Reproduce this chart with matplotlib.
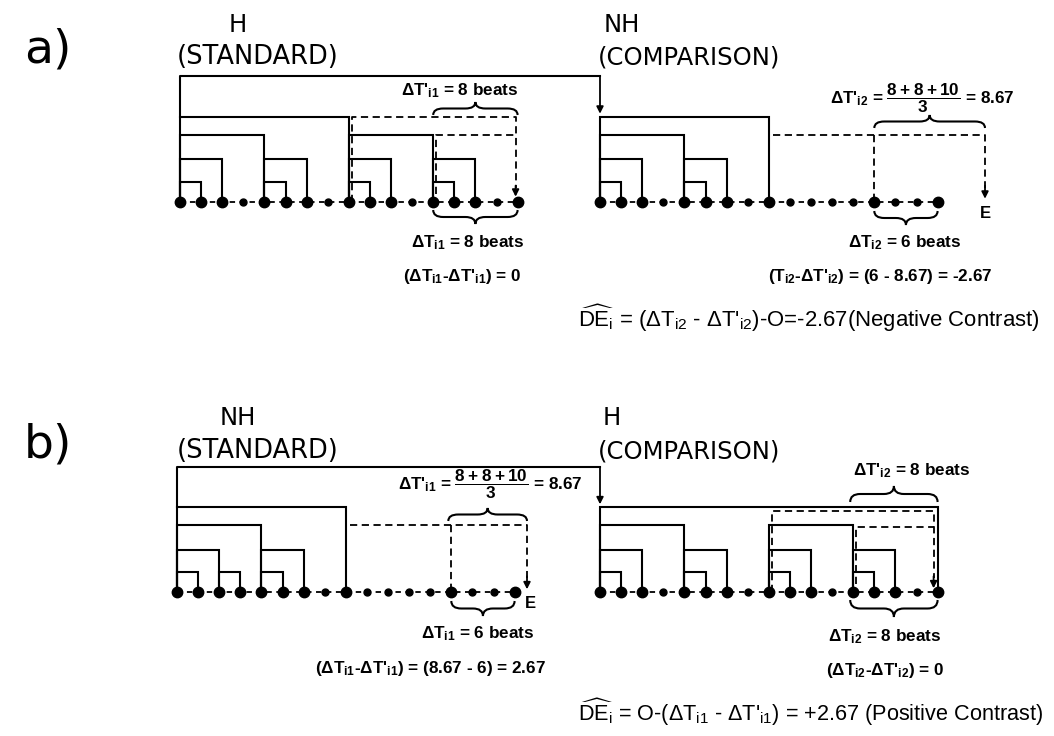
import matplotlib
matplotlib.use("Agg")
import matplotlib.pyplot as plt
from matplotlib.path import Path
from matplotlib.patches import PathPatch

plt.rcParams['font.family'] = ['DejaVu Sans']
plt.rcParams['mathtext.default'] = 'regular'

# ---- data: rhythm trees (start beat, end beat, level) ----
n_beats = 17

# a) H standard
a_std_solid = [(0, 1, 1), (4, 5, 1), (8, 9, 1), (12, 13, 1),
               (0, 2, 2), (4, 6, 2), (8, 10, 2), (12, 14, 2),
               (0, 4, 3), (8, 12, 3), (0, 8, 4)]
# a) NH comparison
a_cmp_solid = [(0, 1, 1), (4, 5, 1), (0, 2, 2), (4, 6, 2), (0, 4, 3), (0, 8, 4)]
# b) NH standard
b_std_solid = [(0, 1, 1), (2, 3, 1), (4, 5, 1), (0, 2, 2), (4, 6, 2), (0, 4, 3), (0, 8, 4)]
# b) H comparison
b_cmp_solid = [(0, 1, 1), (4, 5, 1), (8, 9, 1), (12, 13, 1),
               (0, 2, 2), (4, 6, 2), (8, 10, 2), (12, 14, 2),
               (0, 4, 3), (8, 12, 3), (0, 16, 4)]

dT_prime_a1 = 8
dT_a1 = 8
dT_prime_a2 = 8.67
dT_a2 = 6
contrast_a = -2.67
dT_prime_b1 = 8.67
dT_b1 = 6
dT_prime_b2 = 8
dT_b2 = 8
contrast_b = 2.67

# ---- layout (pixels) ----
W, H = 1054, 736
step = 21.1
lev_h = {1: 20, 2: 42.5, 3: 67, 4: 85}
LW = 1.5
SMALL = ['Liberation Sans', 'DejaVu Sans']

fig = plt.figure(figsize=(W / 100, H / 100), dpi=100)
ax = fig.add_axes([0, 0, 1, 1])
ax.set_xlim(0, W)
ax.set_ylim(H, 0)
ax.axis('off')


def bx(x0, i):
    return x0 + i * step


def tree(x0, base, brackets):
    for i, j, lv in brackets:
        y = base - lev_h[lv]
        ax.plot([bx(x0, i), bx(x0, i), bx(x0, j), bx(x0, j)], [base, y, y, base],
                color='black', lw=LW, solid_joinstyle='miter')


def beats(x0, base, big):
    xs = [bx(x0, i) for i in range(n_beats)]
    ax.plot(xs, [base] * n_beats, color='black', lw=1.3, ls=(0, (3, 2.5)))
    for i, x in enumerate(xs):
        ax.plot(x, base, 'o', color='black', ms=7.5 if i in big else 5, zorder=5)


def dash(xs, ys):
    ax.plot(xs, ys, color='black', lw=1.3, ls=(0, (4, 2.5)))


def arrow(x, y0, y1):
    ax.annotate('', xy=(x, y1), xytext=(x, y0),
                arrowprops=dict(arrowstyle='-|>', color='black', lw=1.3,
                                mutation_scale=10, shrinkA=0, shrinkB=0))


def brace(x1, x2, y0, h):
    # h > 0 : tip points up, h < 0 : tip points down
    xm = (x1 + x2) / 2
    r = min(10, (x2 - x1) / 4)
    ym = y0 - h / 2
    yt = y0 - h
    verts = [(x1, y0), (x1, ym), (x1 + r, ym), (xm - r, ym), (xm, ym), (xm, yt),
             (xm, ym), (xm + r, ym), (x2 - r, ym), (x2, ym), (x2, y0)]
    codes = [Path.MOVETO, Path.CURVE3, Path.CURVE3, Path.LINETO, Path.CURVE3, Path.CURVE3,
             Path.CURVE3, Path.CURVE3, Path.LINETO, Path.CURVE3, Path.CURVE3]
    ax.add_patch(PathPatch(Path(verts, codes), fill=False, lw=1.5, color='black'))


def txt(x, y, s, size=12.3, ha='center', weight='bold', family=SMALL):
    ax.text(x, y, s, fontsize=size, ha=ha, va='center', weight=weight, family=family)


def head(x, y, s, ha='center', size=17.5):
    ax.text(x, y, s, fontsize=size, ha=ha, va='center', family=['DejaVu Sans'])


# ================= panel a =================
A_BASE = 201.7
xa1, xa2 = 180, 600
head(48, 50, 'a)', size=34)
head(238, 25, 'H')
head(177, 57, '(STANDARD)', ha='left', size=18.5)
head(622, 25, 'NH')
head(598, 57, '(COMPARISON)', ha='left')

# connector from standard to comparison
ax.plot([xa1, xa1, xa2], [A_BASE - lev_h[4], 76, 76], color='black', lw=LW)
arrow(xa2, 76, A_BASE - lev_h[4] - 3)

tree(xa1, A_BASE, a_std_solid)
beats(xa1, A_BASE, {0, 1, 2, 4, 5, 6, 8, 9, 10, 12, 13, 14, 16})
y4, y3 = A_BASE - lev_h[4], A_BASE - lev_h[3]
dash([bx(xa1, 8) + 3, bx(xa1, 8) + 3, bx(xa1, 16) - 2, bx(xa1, 16) - 2],
     [A_BASE, y4, y4, A_BASE - 14])
arrow(bx(xa1, 16) - 2, A_BASE - 16, A_BASE - 5)
dash([bx(xa1, 12) + 3, bx(xa1, 12) + 3, bx(xa1, 16) - 2], [A_BASE - 8, y3, y3])
brace(bx(xa1, 12), bx(xa1, 16), 115, 13)
txt(460, 91, r"$\Delta$T$'_{i1}$ = %d beats" % dT_prime_a1)
brace(bx(xa1, 12), bx(xa1, 16), 210, -14)
txt(468, 243, r"$\Delta$T$_{i1}$ = %d beats" % dT_a1)
txt(462, 276, r"($\Delta$T$_{i1}$-$\Delta$T$'_{i1}$) = %d" % (dT_a1 - dT_prime_a1))

tree(xa2, A_BASE, a_cmp_solid)
beats(xa2, A_BASE, {0, 1, 2, 4, 5, 6, 8, 13, 16})
ya3 = A_BASE - lev_h[3]
xE = 985
dash([bx(xa2, 8) + 4, xE, xE], [ya3, ya3, A_BASE - 14])
arrow(xE, A_BASE - 16, A_BASE - 3)
txt(xE, 214, 'E', size=12)
dash([bx(xa2, 13), bx(xa2, 13)], [ya3, A_BASE])
brace(bx(xa2, 13), xE, 128, 13)
txt(922, 98, r"$\Delta$T$'_{i2}$ = $\dfrac{8+8+10}{3}$ = %.2f" % dT_prime_a2, size=12.3)
brace(bx(xa2, 13), bx(xa2, 16), 211, -14)
txt(905, 243, r"$\Delta$T$_{i2}$ = %d beats" % dT_a2)
txt(880, 276, r"(T$_{i2}$-$\Delta$T$'_{i2}$) = (%d - %.2f) = -%.2f" % (dT_a2, dT_prime_a2, -contrast_a))
txt(578, 318, r"$\widehat{DE}_i$ = ($\Delta$T$_{i2}$ - $\Delta$T$'_{i2}$)-O=-%.2f(Negative Contrast)" % -contrast_a,
    size=15.9, ha='left', weight='normal')

# ================= panel b =================
B_BASE = 592.3
xb1, xb2 = 177, 600
head(48, 445, 'b)', size=34)
head(238, 418, 'NH')
head(177, 451, '(STANDARD)', ha='left', size=18.5)
head(612, 418, 'H')
head(598, 451, '(COMPARISON)', ha='left')

ax.plot([xb1, xb1, xb2], [B_BASE - lev_h[4], 467, 467], color='black', lw=LW)
arrow(xb2, 467, B_BASE - lev_h[4] - 3)

tree(xb1, B_BASE, b_std_solid)
beats(xb1, B_BASE, {0, 1, 2, 3, 4, 5, 6, 8, 13, 16})
yb3 = B_BASE - lev_h[3]
xE2 = 527
dash([bx(xb1, 8) + 4, xE2, xE2], [yb3, yb3, B_BASE - 14])
arrow(xE2, B_BASE - 16, B_BASE - 3)
txt(xE2 + 3, 603, 'E', size=12)
dash([bx(xb1, 13), bx(xb1, 13)], [yb3, B_BASE])
brace(bx(xb1, 13) - 3, xE2, 521, 13)
txt(490, 484, r"$\Delta$T$'_{i1}$ = $\dfrac{8+8+10}{3}$ = %.2f" % dT_prime_b1, size=12.3)
brace(bx(xb1, 13), bx(xb1, 16), 601, -15)
txt(478, 634, r"$\Delta$T$_{i1}$ = %d beats" % dT_b1)
txt(430, 668, r"($\Delta$T$_{i1}$-$\Delta$T$'_{i1}$) = (%.2f - %d) = %.2f" % (dT_prime_b1, dT_b1, contrast_b))

tree(xb2, B_BASE, b_cmp_solid)
beats(xb2, B_BASE, {0, 1, 2, 4, 5, 6, 8, 9, 10, 12, 13, 14, 16})
yb4 = B_BASE - lev_h[4] + 3.5
yb3c = B_BASE - lev_h[3] + 1.5
dash([bx(xb2, 8) + 3, bx(xb2, 8) + 3, bx(xb2, 16) - 4, bx(xb2, 16) - 4],
     [B_BASE, yb4, yb4, B_BASE - 14])
arrow(bx(xb2, 16) - 4, B_BASE - 16, B_BASE - 4)
dash([bx(xb2, 12) + 3, bx(xb2, 12) + 3, bx(xb2, 16) - 4], [B_BASE - 8, yb3c, yb3c])
brace(bx(xb2, 12) - 3, bx(xb2, 16), 502, 16)
txt(912, 471, r"$\Delta$T$'_{i2}$ = %d beats" % dT_prime_b2)
brace(bx(xb2, 12) - 3, bx(xb2, 16), 600, -17)
txt(885, 637, r"$\Delta$T$_{i2}$ = %d beats" % dT_b2)
txt(885, 671, r"($\Delta$T$_{i2}$-$\Delta$T$'_{i2}$) = %d" % (dT_b2 - dT_prime_b2))
txt(578, 712, r"$\widehat{DE}_i$ = O-($\Delta$T$_{i1}$ - $\Delta$T$'_{i1}$) = +%.2f (Positive Contrast)" % contrast_b,
    size=15.6, ha='left', weight='normal')

fig.savefig('out.png', dpi=100)
